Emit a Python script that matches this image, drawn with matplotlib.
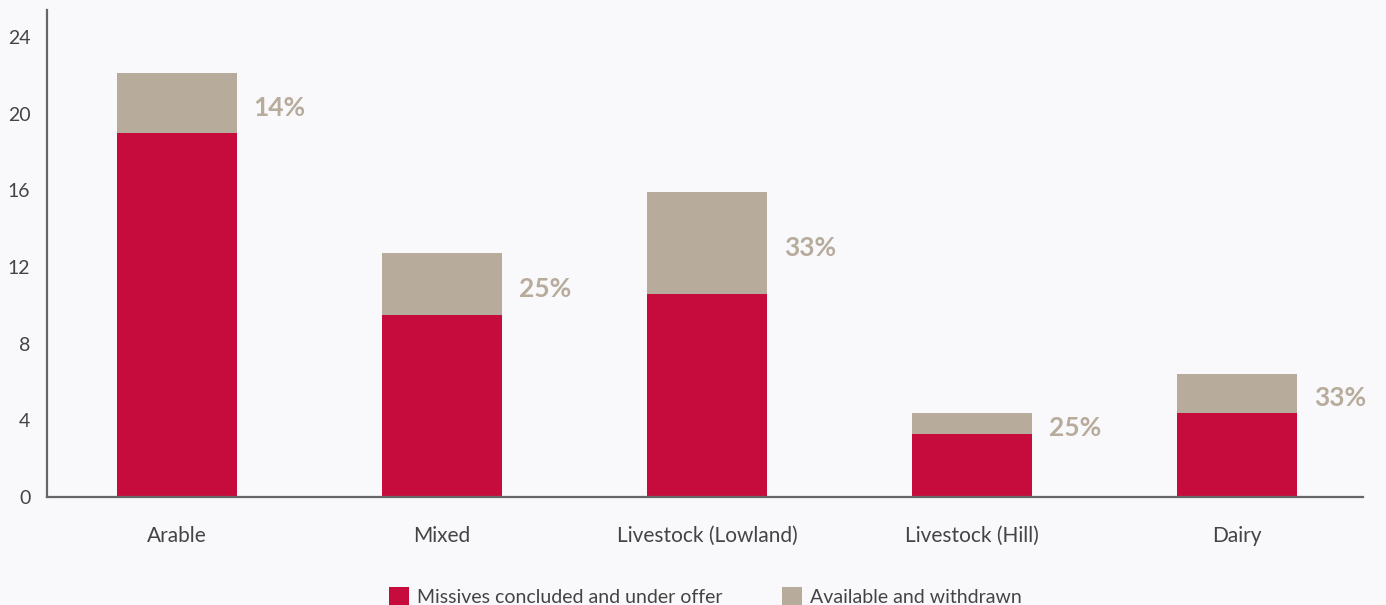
import numpy as np
import matplotlib.pyplot as plt

# --- data ---
categories = ['Arable', 'Mixed', 'Livestock (Lowland)', 'Livestock (Hill)', 'Dairy']
concluded = [19.0, 9.5, 10.6, 3.3, 4.4]
available = [3.1, 3.2, 5.3, 1.1, 2.0]
pct_labels = ['14%', '25%', '33%', '25%', '33%']
y_ticks = [0, 4, 8, 12, 16, 20, 24]

red = '#C60C3D'
grey = '#B7AB9C'
bg = '#F9F9FB'
text_col = '#444444'

plt.rcParams['font.family'] = ['Lato', 'DejaVu Sans']

fig = plt.figure(figsize=(13.86, 6.05), dpi=100, facecolor=bg)
ax = fig.add_axes([0.0339, 0.1785, 0.9495, 0.805])
ax.set_facecolor(bg)

x = np.arange(len(categories))
w = 0.45
ax.bar(x, concluded, w, color=red, label='Missives concluded and under offer')
ax.bar(x, available, w, bottom=concluded, color=grey, label='Available and withdrawn')

# percentage labels beside the grey segment
for xi, c, a, p in zip(x, concluded, available, pct_labels):
    ax.text(xi + w / 2 + 0.065, c + a / 2 - 0.25, p, ha='left', va='center',
            fontsize=19, fontweight='bold', color=grey)

ax.set_xlim(-0.49, 4.475)
ax.set_ylim(0, 25.4)
ax.set_yticks(y_ticks)
ax.set_xticks(x)
ax.set_xticklabels(categories, fontsize=15)
ax.tick_params(axis='both', length=0, colors=text_col)
ax.tick_params(axis='y', pad=12, labelsize=14)
ax.tick_params(axis='x', pad=21)

for s in ['top', 'right']:
    ax.spines[s].set_visible(False)
for s in ['left', 'bottom']:
    ax.spines[s].set_color('#666666')
    ax.spines[s].set_linewidth(1.6)

fig.legend(loc='center', bbox_to_anchor=(0.509, 0.014), ncol=2, frameon=False,
           fontsize=14, handlelength=1.0, handleheight=1.0, handletextpad=0.4,
           columnspacing=3.1, labelcolor=text_col)

fig.savefig('out.png', dpi=100, facecolor=bg)
